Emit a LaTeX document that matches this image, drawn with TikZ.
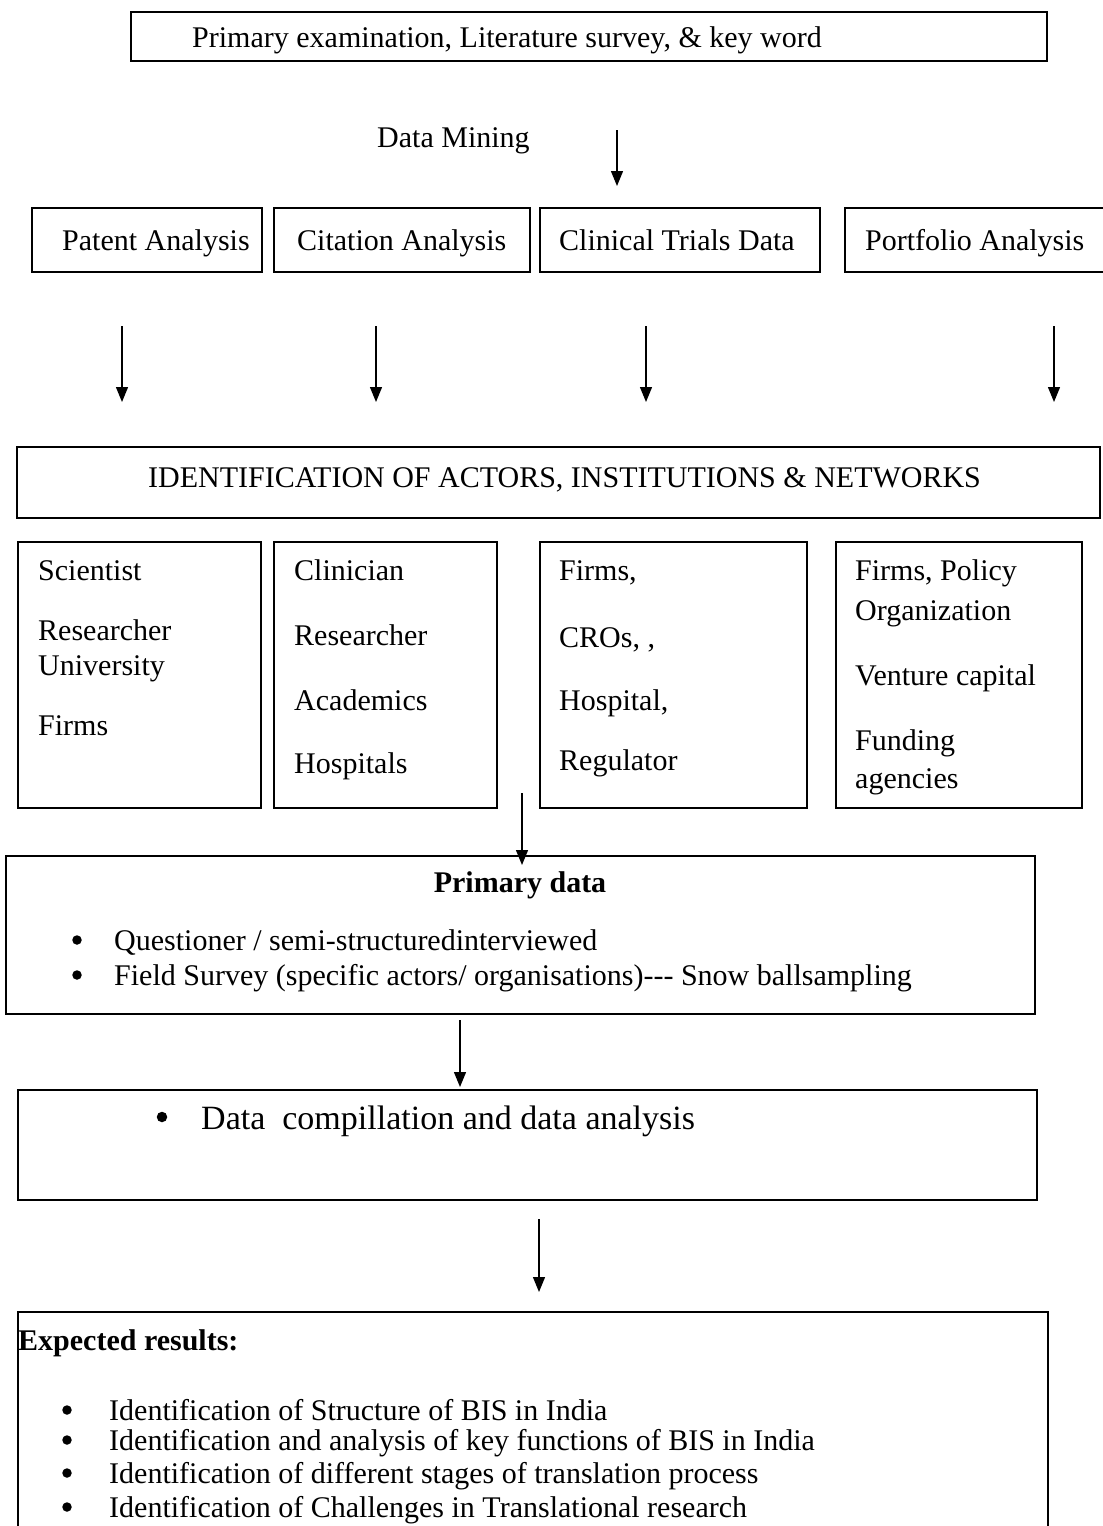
\documentclass[tikz,border=0pt]{standalone}
\usepackage{fontspec}
\setmainfont{Liberation Serif}
\usetikzlibrary{arrows.meta}
\begin{document}
\begin{tikzpicture}[x=1pt,y=-1pt,
  box/.style={draw, line width=1.5pt, inner sep=0pt, outer sep=0pt, anchor=north west},
  txt/.style={inner sep=0pt, anchor=base west, font=\fontsize{30}{36}\selectfont},
  bigtxt/.style={inner sep=0pt, anchor=base west, font=\fontsize{34}{40}\selectfont},
  dot/.style={circle, fill=black, inner sep=0pt, minimum size=9.5pt},
  flow/.style={line width=1.3pt, -{Triangle[width=12pt,length=15pt]}}]
\clip (0,0) rectangle (1103,1526);
\fill[white] (0,0) rectangle (1103,1526);

% --- top: literature survey ---
\node[box, minimum width=916pt, minimum height=49pt] (survey) at (131,12) {};
\node[txt] (surveyT) at (192,47) {Primary examination, Literature survey, \& key word};

% --- data mining ---
\node[txt] (mining) at (377,147) {Data Mining};
\coordinate (m1) at (617,130);
\coordinate (m2) at (617,186);
\draw[flow] (m1) -- (m2);

% --- four data sources ---
\node[box, minimum width=230pt, minimum height=64pt] (patent) at (32,208) {};
\node[box, minimum width=256pt, minimum height=64pt] (citation) at (274,208) {};
\node[box, minimum width=280pt, minimum height=64pt] (clinical) at (540,208) {};
\node[box, minimum width=270pt, minimum height=64pt] (portfolio) at (845,208) {};
\node[txt] at (62,250) {Patent Analysis};
\node[txt] at (297,250) {Citation Analysis};
\node[txt] at (559,250) {Clinical Trials Data};
\node[txt] at (865,250) {Portfolio Analysis};

\foreach \n/\x in {a/122, b/376, c/646, d/1054}{
  \coordinate (\n1) at (\x,326);
  \coordinate (\n2) at (\x,402);
  \draw[flow] (\n1) -- (\n2);
}

% --- identification ---
\node[box, minimum width=1083pt, minimum height=71pt] (ident) at (17,447) {};
\node[txt] (identT) at (148,487) {IDENTIFICATION OF ACTORS, INSTITUTIONS \& NETWORKS};

% --- actor groups ---
\node[box, minimum width=243pt, minimum height=266pt] (g1) at (18,542) {};
\node[box, minimum width=223pt, minimum height=266pt] (g2) at (274,542) {};
\node[box, minimum width=267pt, minimum height=266pt] (g3) at (540,542) {};
\node[box, minimum width=246pt, minimum height=266pt] (g4) at (836,542) {};

\node[txt] at (38,580) {Scientist};
\node[txt] at (38,640) {Researcher};
\node[txt] at (38,675) {University};
\node[txt] at (38,735) {Firms};

\node[txt] at (294,580) {Clinician};
\node[txt] at (294,645) {Researcher};
\node[txt] at (294,710) {Academics};
\node[txt] at (294,773) {Hospitals};

\node[txt] at (559,580) {Firms,};
\node[txt] at (559,647) {CROs, ,};
\node[txt] at (559,710) {Hospital,};
\node[txt] at (559,770) {Regulator};

\node[txt] at (855,580) {Firms, Policy};
\node[txt] at (855,620) {Organization};
\node[txt] at (855,685) {Venture capital};
\node[txt] at (855,750) {Funding};
\node[txt] at (855,788) {agencies};

% --- primary data ---
\node[box, minimum width=1029pt, minimum height=158pt] (primary) at (6,856) {};
\coordinate (p1) at (522,793);
\draw[flow] (p1) -- ([yshift=-9pt]p1 |- primary.north);
\node[txt, anchor=base, font=\fontsize{30}{36}\selectfont\bfseries] (primT) at (520,892) {Primary data};
\node[dot] (pb1) at (77,940) {};
\node[txt] (pl1) at (114,950) {Questioner / semi-structuredinterviewed};
\node[dot] (pb2) at (77,975) {};
\node[txt] (pl2) at (114,985) {Field Survey (specific actors/ organisations)-{}-{}- Snow ballsampling};

% --- compilation ---
\node[box, minimum width=1019pt, minimum height=110pt] (compile) at (18,1090) {};
\coordinate (c1) at (460,1020);
\draw[flow] (c1) -- ([yshift=3pt]c1 |- compile.north);
\node[dot, minimum size=10.5pt] (cb) at (162,1117) {};
\node[bigtxt] (cl) at (201,1129) {Data\ \ compillation and data analysis};

% --- expected results ---
\node[box, minimum width=1030pt, minimum height=260pt] (results) at (18,1312) {};
\coordinate (r1) at (539,1219);
\draw[flow] (r1) -- ([yshift=20pt]r1 |- results.north);
\node[txt, font=\fontsize{30}{36}\selectfont\bfseries] (resT) at (18,1350) {Expected results:};
\node[dot] at (67,1410) {};
\node[txt] at (109,1420) {Identification of Structure of BIS in India};
\node[dot] at (67,1440) {};
\node[txt] at (109,1450) {Identification and analysis of key functions of BIS in India};
\node[dot] at (67,1473) {};
\node[txt] at (109,1483) {Identification of different stages of translation process};
\node[dot] at (67,1507) {};
\node[txt] at (109,1517) {Identification of Challenges in Translational research};
\end{tikzpicture}
\end{document}
